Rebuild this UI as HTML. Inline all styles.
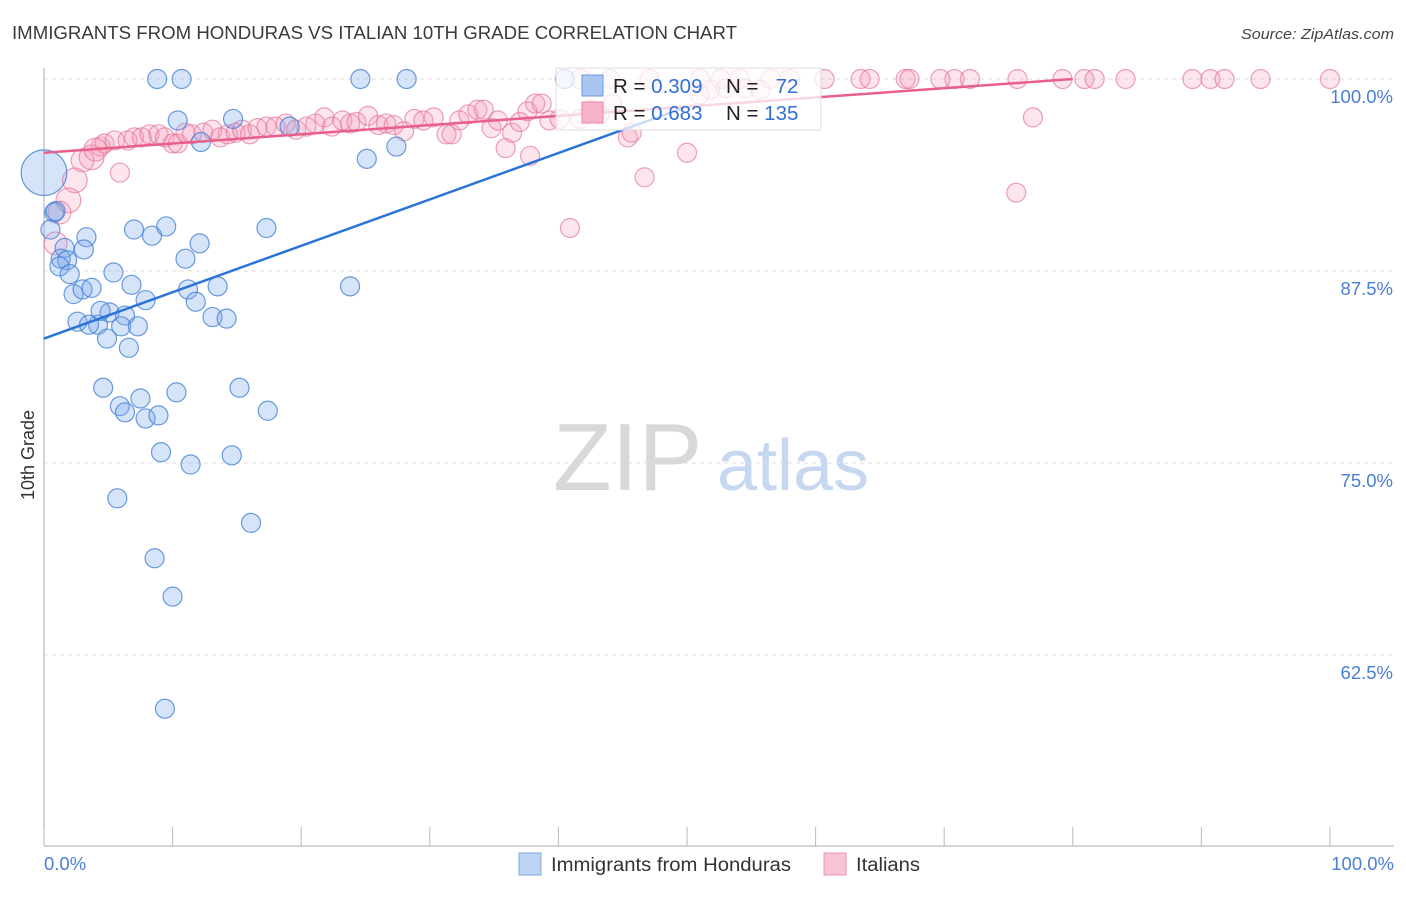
<!DOCTYPE html>
<html><head><meta charset="utf-8"><style>
body{margin:0;background:#fff;font-family:"Liberation Sans",sans-serif}
svg text{font-family:"Liberation Sans",sans-serif}
</style></head><body>
<svg id="chart" width="1406" height="892" viewBox="0 0 1406 892" xmlns="http://www.w3.org/2000/svg">
<text x="12" y="39" font-size="18" fill="#3a3a3a" textLength="725" lengthAdjust="spacingAndGlyphs">IMMIGRANTS FROM HONDURAS VS ITALIAN 10TH GRADE CORRELATION CHART</text>
<text x="1394" y="39" font-size="15" fill="#444" text-anchor="end" font-style="italic" textLength="153" lengthAdjust="spacingAndGlyphs">Source: ZipAtlas.com</text>
<g>
<text x="553" y="490" font-size="96" fill="#d8d8d8" font-family="Liberation Serif, serif">ZIP</text>
<text x="717" y="490" font-size="72" fill="#c6d8f0">atlas</text>
</g>
<g id="grid"></g>
<g id="axes"></g>
<g id="pts"></g>
<g id="lines"></g>
<text transform="translate(34,455) rotate(-90)" font-size="18" fill="#333" text-anchor="middle">10th Grade</text>
<g>
<rect x="556" y="68" width="265" height="62" fill="#fff" fill-opacity="0.75" stroke="#ddd"/>
<rect x="582" y="75" width="21" height="21" fill="#a9c6f0" stroke="#6a9ae0"/>
<rect x="582" y="102" width="21" height="21" fill="#f6b3c7" stroke="#e88aa8"/>
<text x="613" y="93" font-size="20.5" fill="#222">R = <tspan fill="#2f6fd6">0.309</tspan></text>
<text x="726" y="93" font-size="20.5" fill="#222">N = <tspan fill="#2f6fd6">&#160;&#160;72</tspan></text>
<text x="613" y="120" font-size="20.5" fill="#222">R = <tspan fill="#2f6fd6">0.683</tspan></text>
<text x="726" y="120" font-size="20.5" fill="#222">N = <tspan fill="#2f6fd6">135</tspan></text>
</g>
<g>
<rect x="519" y="853" width="22" height="22" fill="#bcd3f3" stroke="#7ea7e3"/>
<text x="551" y="871" font-size="19" fill="#333" textLength="240" lengthAdjust="spacingAndGlyphs">Immigrants from Honduras</text>
<rect x="824" y="853" width="22" height="22" fill="#f8c3d3" stroke="#e99ab3"/>
<text x="856" y="871" font-size="19" fill="#333" textLength="64" lengthAdjust="spacingAndGlyphs">Italians</text>
</g>
</svg>
<script>
const yTicks=[100,87.5,75,62.5];
const yTickLabels=["100.0%","87.5%","75.0%","62.5%"];
const xTicks=[0,10,20,30,40,50,60,70,80,90,100];
const blueTrend=[[0,83.1],[50,98.2]];
const pinkTrend=[[0,95.2],[80,100]];
const bluePts=[[8.8,100],[10.7,100],[24.6,100],[28.2,100],[40.5,100],[0,93.9,2.4],[0.8,91.3],[0.5,90.2],[10.4,97.3],[14.7,97.4],[12.2,95.9],[25.1,94.8],[27.4,95.6],[19.1,96.9],[1.6,89.0],[1.3,88.3],[1.8,88.2],[1.2,87.8],[2.0,87.3],[3.3,89.7],[3.1,88.9],[7.0,90.2],[8.4,89.8],[9.5,90.4],[12.1,89.3],[11.0,88.3],[17.3,90.3],[5.4,87.4],[2.3,86.0],[3.0,86.3],[3.7,86.4],[2.6,84.2],[4.2,84.0],[5.1,84.8],[4.4,84.9],[6.3,84.6],[6.0,83.9],[7.3,83.9],[4.9,83.1],[6.6,82.5],[6.8,86.6],[7.9,85.6],[11.2,86.3],[11.8,85.5],[13.5,86.5],[13.1,84.5],[14.2,84.4],[23.8,86.5],[4.6,79.9],[5.9,78.7],[6.3,78.3],[7.5,79.2],[7.9,77.9],[8.9,78.1],[10.3,79.6],[15.2,79.9],[17.4,78.4],[9.1,75.7],[11.4,74.9],[14.6,75.5],[5.7,72.7],[16.1,71.1],[8.6,68.8],[10.0,66.3],[9.4,59.0],[0.9,91.4],[3.5,84.0]];
const pinkPts=[[3.7,94.9,1.3],[4.4,95.6],[4.7,95.8],[5.5,96.0],[6.5,96.0],[7.0,96.2],[7.6,96.2],[8.2,96.4],[8.9,96.4],[9.4,96.2],[10.0,95.8],[10.4,95.8],[11.0,96.5],[11.5,96.4],[12.4,96.5],[13.1,96.7],[13.7,96.2],[14.3,96.4],[14.9,96.5],[15.4,96.7],[16.0,96.4],[16.6,96.8],[17.3,96.9],[18.0,96.9],[18.8,97.1],[19.6,96.7],[20.4,96.9],[21.1,97.1],[21.8,97.5],[22.4,96.9],[23.2,97.3],[23.8,97.1],[24.3,97.2],[25.2,97.6],[26.0,97.0],[26.6,97.1],[27.2,97.0],[28.0,96.6],[28.8,97.4],[29.5,97.3],[30.3,97.5],[31.3,96.4],[31.7,96.4],[32.3,97.3],[33.0,97.7],[33.7,98.0],[34.2,98.0],[34.8,96.8],[35.3,97.3],[35.9,95.5],[36.4,96.5],[37.0,97.2],[37.6,97.9],[38.2,98.4],[38.7,98.4],[39.3,97.3],[40.1,97.4],[40.9,90.3],[41.7,97.4],[42.5,98.0],[43.2,97.7],[44.2,98.4],[45.4,96.2],[45.7,96.5],[46.7,93.6],[50.0,95.2],[51.0,99.0],[51.8,99.3],[53.0,99.4],[54.5,99.4],[55.7,99.3],[75.6,92.6],[76.9,97.5],[37.8,95.0],[5.9,93.9],[2.4,93.4,1.3],[1.9,92.1,1.3],[1.2,91.3,1.2],[0.9,89.3,1.2],[3.0,94.7,1.2],[4.0,95.4,1.2],[41.7,100],[44.0,100],[47.1,100],[51.0,100],[52.6,100],[54.1,100],[56.5,100],[58.0,100],[60.7,100],[63.5,100],[64.2,100],[67.0,100],[67.3,100],[69.7,100],[70.8,100],[72.0,100],[75.7,100],[79.2,100],[80.9,100],[81.7,100],[84.1,100],[89.3,100],[90.7,100],[91.8,100],[94.6,100],[100,100]];
const NS="http://www.w3.org/2000/svg";
const X=v=>44+v*12.86, Y=v=>79+(100-v)*15.36;
function mk(t,a,p){const e=document.createElementNS(NS,t);for(const k in a)e.setAttribute(k,a[k]);p.appendChild(e);return e;}
const grid=document.getElementById('grid'),axes=document.getElementById('axes'),pts=document.getElementById('pts'),lines=document.getElementById('lines');
yTicks.forEach((t,i)=>{
 const l=mk('line',{x1:44,x2:1394,y1:Y(t),y2:Y(t),stroke:'#ddd','stroke-dasharray':'4,4'},grid);
 
 
 const tx=mk('text',{x:1393,y:Y(t)+24,'font-size':18.5,fill:'#4a7fd6','text-anchor':'end'},axes);
 tx.textContent=yTickLabels[i];
 
 
});
const ya=mk('line',{x1:44,x2:44,y1:68,y2:846,stroke:'#aaa'},axes);


const xa=mk('line',{x1:44,x2:1394,y1:846,y2:846,stroke:'#aaa'},axes);


xTicks.forEach(t=>{
 const l=mk('line',{x1:X(t),x2:X(t),y1:827,y2:846,stroke:'#bbb'},axes);
 
 
});
const x0=mk('text',{x:44,y:870,'font-size':18.5,fill:'#4a7fd6'},axes);x0.textContent='0.0%';


const x1=mk('text',{x:1394,y:870,'font-size':18.5,fill:'#4a7fd6','text-anchor':'end'},axes);x1.textContent='100.0%';


function drawPts(arr,fill,stroke,name){arr.forEach(p=>{
 const c=mk('circle',{cx:X(p[0]),cy:Y(p[1]),r:9.5*(p[2]||1),fill:fill,stroke:stroke,'stroke-width':1.2},pts);
 
 
});}
drawPts(pinkPts,'rgba(244,150,178,0.25)','rgba(230,120,155,0.7)','italians-point');
drawPts(bluePts,'rgba(120,165,235,0.3)','rgba(70,130,215,0.8)','honduras-point');
const bl=mk('line',{x1:X(blueTrend[0][0]),y1:Y(blueTrend[0][1]),x2:X(blueTrend[1][0]),y2:Y(blueTrend[1][1]),stroke:'#2a74d9','stroke-width':2.5},lines);


const pl=mk('line',{x1:X(pinkTrend[0][0]),y1:Y(pinkTrend[0][1]),x2:X(pinkTrend[1][0]),y2:Y(pinkTrend[1][1]),stroke:'#e8608a','stroke-width':2.5},lines);


</script>
</body></html>
